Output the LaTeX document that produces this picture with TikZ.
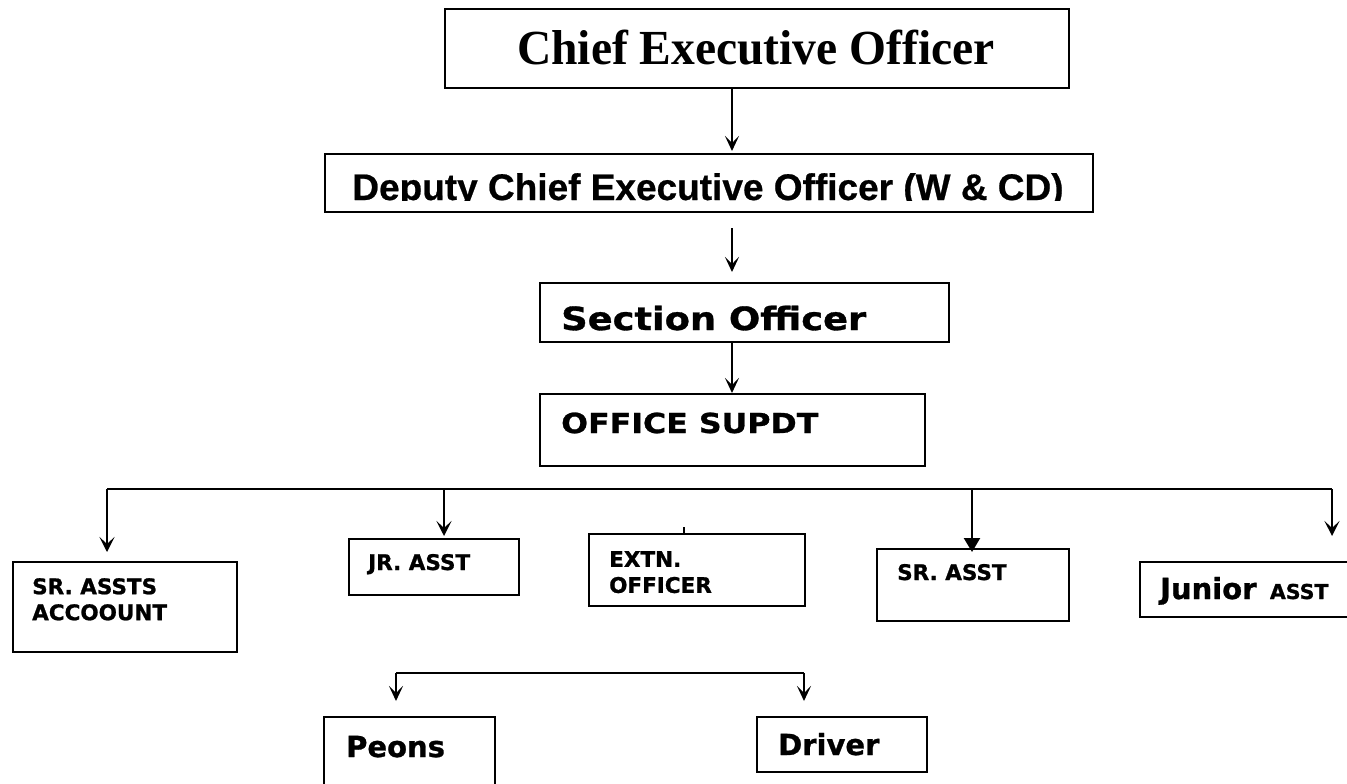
\documentclass[tikz,border=0pt]{standalone}
\usepackage{fontspec}
\setmainfont[FakeStretch=0.97]{Liberation Serif}
\newfontfamily\arialfont[FakeBold=0.6]{Liberation Sans}
\newfontfamily\verdfont[FakeBold=1]{DejaVu Sans}
\newfontfamily\verdwide[FakeStretch=1.15,FakeBold=1]{DejaVu Sans}
\usetikzlibrary{arrows.meta}

\begin{document}
\begin{tikzpicture}[x=1pt,y=-1pt,
    box/.style={draw, line width=2.2pt, anchor=north west, inner sep=0pt},
    link/.style={line width=2.4pt},
    arr/.style={line width=2.4pt, -{Stealth[length=15pt,width=15pt,inset=7pt]}},
    thinarr/.style={line width=1.6pt, -{Stealth[length=15pt,width=14pt,inset=7pt]}},
    lbl/.style={font=\verdfont\bfseries\fontsize{21.5}{26}\selectfont, inner sep=0pt, anchor=base west, align=left},
  ]
  % Hoja
  \path[use as bounding box, fill=white] (0,0) rectangle (1347,784);

  % Cajas
  \node[box, minimum width=624pt, minimum height=79pt] (ceo) at (444,8) {};
  \node[box, minimum width=768pt, minimum height=58pt] (dceo) at (324,153) {};
  \node[box, minimum width=409pt, minimum height=59pt] (so) at (539,282) {};
  \node[box, minimum width=385pt, minimum height=72pt] (os) at (539,393) {};
  \node[box, minimum width=224pt, minimum height=90pt] (sracc) at (12,561) {};
  \node[box, minimum width=170pt, minimum height=56pt] (jra) at (348,538) {};
  \node[box, minimum width=216pt, minimum height=72pt] (extn) at (588,533) {};
  \node[box, minimum width=192pt, minimum height=72pt] (sra) at (876,548) {};
  \node[box, minimum width=214pt, minimum height=55pt] (juna) at (1139,561) {};
  \node[box, minimum width=171pt, minimum height=90pt] (peon) at (323,716) {};
  \node[box, minimum width=170pt, minimum height=55pt] (drv) at (756,716) {};

  % Textos
  \node[font=\bfseries\fontsize{49}{58}\selectfont, inner sep=0pt, anchor=base] (ceo-t) at (756,65) {Chief Executive Officer};
  \begin{scope}
    \clip (324,153) rectangle (1092,200.5);
    \node[font=\arialfont\bfseries\fontsize{37}{44}\selectfont, inner sep=0pt, anchor=base] (dceo-t) at (708,200) {Deputy Chief Executive Officer (W \& CD)};
  \end{scope}
  \node[lbl, font=\verdwide\bfseries\fontsize{32}{38}\selectfont] (so-t) at (561,330) {Section Officer};
  \node[lbl, font=\verdwide\bfseries\fontsize{27.5}{32}\selectfont] (os-t) at (561,433) {OFFICE SUPDT};
  \node[lbl, anchor=north west] (sracc-t) at (32,578) {SR. ASSTS\\ACCOOUNT};
  \node[lbl] (jra-t) at (368,570) {JR. ASST};
  \node[lbl, anchor=north west] (extn-t) at (609,551) {EXTN.\\OFFICER};
  \node[lbl] (sra-t) at (897,580) {SR. ASST};
  \node[lbl] (juna-t) at (1160,599) {{\fontsize{29}{34}\selectfont Junior}\hspace{6pt} {\fontsize{20.5}{24}\selectfont ASST}};
  \node[lbl, font=\verdfont\bfseries\fontsize{29}{35}\selectfont] (peon-t) at (346,757) {Peons};
  \node[lbl, font=\verdfont\bfseries\fontsize{29}{35}\selectfont] (drv-t) at (778,755) {Driver};

  % Linea central
  \coordinate (spine) at (732,0);
  \draw[thinarr, shorten >=2pt] (ceo.south -| spine) -- (dceo.north -| spine);
  \draw[thinarr, shorten <=15pt, shorten >=10pt] (dceo.south -| spine) -- (so.north -| spine);
  \draw[thinarr] (so.south -| spine) -- (os.north -| spine);

  % Barra de asistentes
  \coordinate (busA) at (107,489);
  \coordinate (busB) at (444,489);
  \coordinate (busC) at (972,489);
  \coordinate (busD) at (1332,489);
  \draw[link] (busA) -- (busD);
  \draw[arr, shorten >=9pt] (busA) -- (busA |- sracc.north);
  \draw[arr, shorten >=2pt] (busB) -- (busB |- jra.north);
  \draw[link, -{Triangle[length=14pt,width=16pt]}, shorten >=-4pt] (busC) -- (busC |- sra.north);
  \draw[arr, shorten >=25pt] (busD) -- (busD |- juna.north);
  % marca sobre EXTN
  \coordinate (tick) at (684,527);
  \draw[line width=1.4pt] (tick) -- (tick |- extn.north);

  % Peones y chofer
  \coordinate (subA) at (396,673);
  \coordinate (subB) at (804,673);
  \draw[line width=1.6pt] (subA) -- (subB);
  \draw[thinarr, shorten >=15pt] (subA) -- (subA |- peon.north);
  \draw[thinarr, shorten >=15pt] (subB) -- (subB |- drv.north);
\end{tikzpicture}
\end{document}
